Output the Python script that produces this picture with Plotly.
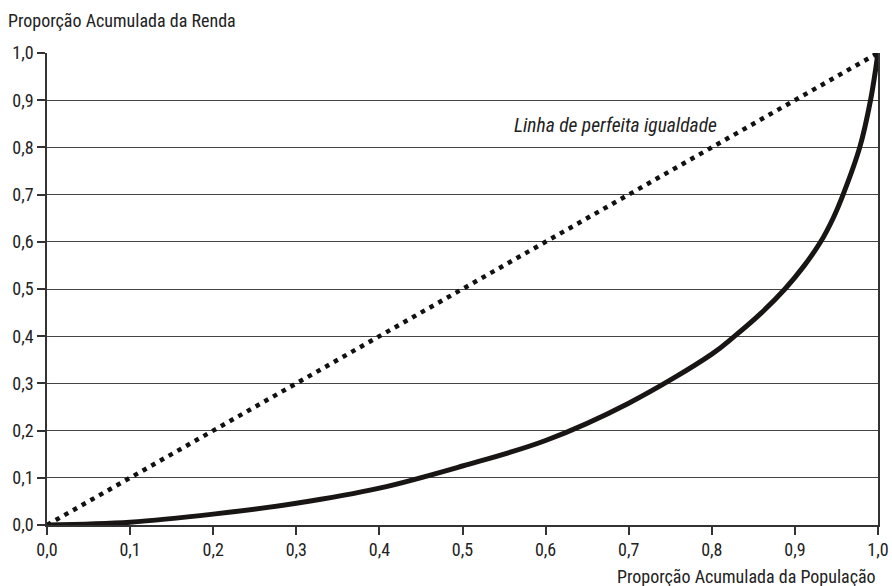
import plotly.graph_objects as go

# Lorenz curve
pop_share = [0, 0.1, 0.2, 0.3, 0.4, 0.5, 0.6, 0.7, 0.8, 0.826, 0.86, 0.888,
             0.911, 0.931, 0.946, 0.958, 0.978, 0.991, 1.0]
income_share = [0, 0.006, 0.023, 0.046, 0.078, 0.125, 0.179, 0.258, 0.362, 0.398,
                0.45, 0.5, 0.549, 0.6, 0.65, 0.7, 0.8, 0.9, 1.0]

# Line of perfect equality
equality_x = [0, 1]
equality_y = [0, 1]

tick_vals = [0, 0.1, 0.2, 0.3, 0.4, 0.5, 0.6, 0.7, 0.8, 0.9, 1.0]
tick_text = ["0,0", "0,1", "0,2", "0,3", "0,4", "0,5", "0,6", "0,7", "0,8", "0,9", "1,0"]

y_title = "Proporção Acumulada da Renda"
x_title = "Proporção Acumulada da População"
equality_label = "Linha de perfeita igualdade"

FONT = "Liberation Sans Narrow, Roboto Condensed, Arial Narrow, Roboto, sans-serif"

fig = go.Figure()
fig.add_trace(go.Scatter(
    x=equality_x, y=equality_y, mode="lines",
    line=dict(color="#111111", width=4.5, dash="4.5px,5.5px"),
    hoverinfo="skip", showlegend=False,
))
fig.add_trace(go.Scatter(
    x=pop_share, y=income_share, mode="lines",
    line=dict(color="#1a1515", width=5, shape="spline", smoothing=1.0),
    showlegend=False,
))

fig.add_annotation(
    x=0.559, y=0.847, xref="x", yref="y", xanchor="left", yanchor="middle",
    text="<i>" + equality_label + "</i>", showarrow=False,
    font=dict(family=FONT, size=19.5, color="#222222"),
)
fig.add_annotation(
    x=-0.049, y=1.0, xref="paper", yref="paper", xanchor="left", yanchor="bottom",
    yshift=20, text=y_title, showarrow=False,
    font=dict(family=FONT, size=18, color="#222222"),
)
fig.add_annotation(
    x=1.0, y=0, xref="paper", yref="paper", xanchor="right", yanchor="top",
    yshift=-39, text=x_title, showarrow=False,
    font=dict(family=FONT, size=18, color="#222222"),
)

fig.update_layout(
    width=892, height=586,
    margin=dict(l=47, r=14, t=53, b=61, autoexpand=False),
    paper_bgcolor="white", plot_bgcolor="white",
    font=dict(family=FONT, size=18, color="#222222"),
    xaxis=dict(
        range=[0, 1], tickvals=tick_vals, ticktext=tick_text, automargin=False,
        showgrid=False, zeroline=False, showline=True, linecolor="#333333", linewidth=1.5,
        ticks="outside", ticklen=8, tickcolor="#333333", tickwidth=1.5,
        tickfont=dict(family=FONT, size=18, color="#222222"),
        fixedrange=True,
    ),
    yaxis=dict(
        range=[0, 1], tickvals=tick_vals, ticktext=tick_text, automargin=False,
        showgrid=True, gridcolor="#444444", gridwidth=1,
        zeroline=False, showline=True, linecolor="#333333", linewidth=1.5, mirror=True,
        ticks="outside", ticklen=8, tickcolor="#333333", tickwidth=1.5,
        tickfont=dict(family=FONT, size=18, color="#222222"),
        fixedrange=True,
    ),
)

fig.write_html(
    "out.html",
    config={"displayModeBar": False},
    post_script="document.body.style.margin='0';document.body.style.overflow='hidden';",
)
